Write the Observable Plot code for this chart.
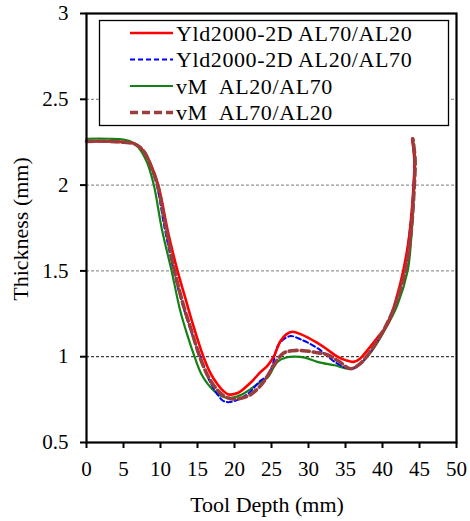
<!DOCTYPE html>
<html>
<head>
<meta charset="utf-8">
<script src="https://cdn.jsdelivr.net/npm/d3@7"></script>
<script src="https://cdn.jsdelivr.net/npm/@observablehq/plot@0.6"></script>
<style>
  body { margin: 0; background: #fff; }
  #chart { width: 470px; height: 521px; }
</style>
</head>
<body>
<div id="chart"></div>
<script>
// ---- data ----
const seriesNames = ["Yld2000-2D AL70/AL20", "Yld2000-2D AL20/AL70", "vM  AL20/AL70", "vM  AL70/AL20"];
const xTicks = [0, 5, 10, 15, 20, 25, 30, 35, 40, 45, 50];
const yTicks = [0.5, 1, 1.5, 2, 2.5, 3];
const gridY = [2.5, 2, 1.5];
const gridYDark = [1];

const redX = [0, 3, 5, 6.5, 7.7, 8.7, 9.7, 11, 12.3, 13.3, 14.3, 15.8, 16.8, 17.7, 18.5, 19.2, 20.5, 22.2, 23.5, 24.5, 25.3, 26.2, 27, 27.8, 29, 31.2, 32.6, 33.9, 35, 36.1, 37, 38, 39.3, 40.7, 41.8, 42.8, 43.6, 44.2, 44.3, 44.0];
const redY = [2.255, 2.255, 2.25, 2.24, 2.2, 2.12, 2.0, 1.73, 1.5, 1.35, 1.2, 1.0, 0.9, 0.84, 0.8, 0.78, 0.79, 0.85, 0.91, 0.95, 1.0, 1.09, 1.13, 1.145, 1.13, 1.08, 1.04, 1.0, 0.98, 0.97, 0.99, 1.04, 1.11, 1.19, 1.33, 1.5, 1.7, 2.0, 2.15, 2.27];

const blueX = [0, 3, 5, 6.5, 7.7, 8.7, 9.5, 10.6, 11.8, 13, 14.2, 15.4, 16.4, 17.4, 18.4, 19.2, 20.5, 22, 23.5, 24.5, 25.2, 25.8, 26.6, 27.6, 29, 31.2, 33.9, 35.9, 37.5, 39.3, 41.5, 42.9, 43.6, 44.2, 44.3, 44.0];
const blueY = [2.255, 2.255, 2.25, 2.24, 2.2, 2.11, 2.0, 1.74, 1.5, 1.3, 1.14, 1.0, 0.88, 0.8, 0.745, 0.735, 0.75, 0.79, 0.86, 0.89, 0.96, 1.06, 1.1, 1.12, 1.1, 1.05, 0.96, 0.93, 0.98, 1.09, 1.28, 1.5, 1.7, 2.0, 2.15, 2.27];

const greenX = [0, 3, 5, 6.2, 7.0, 8.2, 9.1, 10.2, 11.5, 12.6, 13.6, 14.6, 15.5, 16.4, 17.5, 18.5, 19.5, 21, 23.1, 24.5, 25.8, 27, 28, 29.5, 31.2, 33.5, 35.7, 37, 38.5, 40.1, 42, 43.4, 43.9, 44.3, 44.4, 44.1];
const greenY = [2.27, 2.27, 2.265, 2.25, 2.22, 2.13, 2.0, 1.74, 1.5, 1.28, 1.13, 1.0, 0.9, 0.84, 0.79, 0.765, 0.76, 0.78, 0.84, 0.88, 0.97, 0.995, 1.0, 0.995, 0.97, 0.95, 0.93, 0.96, 1.03, 1.14, 1.3, 1.5, 1.7, 2.0, 2.15, 2.27];

const brownX = [0, 3, 5, 6.5, 7.7, 8.7, 9.6, 10.7, 11.9, 13.1, 14.2, 15.3, 16.5, 17.6, 18.6, 19.5, 20.5, 22, 23.5, 24.5, 25.3, 26.6, 27.8, 29.3, 31, 32.6, 34.2, 35.7, 37, 38.5, 40.1, 41.7, 43.1, 43.8, 44.3, 44.4, 44.1];
const brownY = [2.255, 2.255, 2.25, 2.24, 2.2, 2.11, 2.0, 1.76, 1.5, 1.3, 1.15, 1.0, 0.88, 0.81, 0.77, 0.755, 0.755, 0.775, 0.83, 0.89, 0.95, 1.02, 1.035, 1.035, 1.025, 1.01, 0.97, 0.93, 0.96, 1.04, 1.15, 1.3, 1.5, 1.7, 2.0, 2.15, 2.27];

const styles = [
  {color: "#ff0000", width: 2.6, dash: null},
  {color: "#0000ff", width: 2, dash: "5,3"},
  {color: "#128212", width: 2.2, dash: null},
  {color: "#9b3d3d", width: 3.6, dash: "8,4"}
];

const toRows = (xs, ys) => xs.map((x, i) => ({x, y: ys[i]}));
const red = toRows(redX, redY);
const blue = toRows(blueX, blueY);
const green = toRows(greenX, greenY);
const brown = toRows(brownX, brownY);

const FONT = "'Liberation Serif', 'Times New Roman', serif";

const plot = Plot.plot({
  width: 470,
  height: 521,
  marginLeft: 86,
  marginRight: 14,
  marginTop: 13,
  marginBottom: 79,
  style: {fontFamily: FONT, fontSize: "21px", color: "#000", background: "#fff"},
  x: {domain: [0, 50]},
  y: {domain: [0.5, 3]},
  marks: [
    Plot.ruleY(gridY, {stroke: "#7a7a7a", strokeDasharray: "3,2", strokeWidth: 1}),
    Plot.ruleY(gridYDark, {stroke: "#111", strokeDasharray: "3,2", strokeWidth: 1}),
    Plot.line(green, {x: "x", y: "y", stroke: styles[2].color, strokeWidth: styles[2].width, curve: "catmull-rom"}),
    Plot.line(blue, {x: "x", y: "y", stroke: styles[1].color, strokeWidth: styles[1].width, strokeDasharray: styles[1].dash, curve: "catmull-rom"}),
    Plot.line(red, {x: "x", y: "y", stroke: styles[0].color, strokeWidth: styles[0].width, curve: "catmull-rom"}),
    Plot.line(brown, {x: "x", y: "y", stroke: styles[3].color, strokeWidth: styles[3].width, strokeDasharray: styles[3].dash, curve: "catmull-rom"}),
    Plot.frame({stroke: "#000", strokeWidth: 2.2}),
    Plot.axisX({ticks: xTicks, tickSize: 6, tickPadding: 13, strokeWidth: 2, label: null, fontSize: 21}),
    Plot.axisY({ticks: yTicks, tickSize: 6, tickPadding: 12, strokeWidth: 2, label: null, tickFormat: d => String(d), fontSize: 21})
  ]
});

document.getElementById("chart").appendChild(plot);

// ---- axis titles and legend ----
const svg = d3.select(plot);
svg.append("text")
  .attr("x", 267).attr("y", 512)
  .attr("text-anchor", "middle")
  .style("font-family", FONT).style("font-size", "22px").attr("fill", "#000")
  .text("Tool Depth (mm)");
svg.append("text")
  .attr("transform", "translate(28,229) rotate(-90)")
  .attr("text-anchor", "middle")
  .style("font-family", FONT).style("font-size", "22px").attr("fill", "#000")
  .text("Thickness (mm)");

const lg = svg.append("g").attr("text-anchor", "start");
lg.append("rect").attr("x", 99.5).attr("y", 20.5).attr("width", 349).attr("height", 105)
  .attr("fill", "#fff").attr("stroke", "#000").attr("stroke-width", 1.3);
seriesNames.forEach((name, i) => {
  const cy = 33 + i * 26.5;
  const s = styles[i];
  lg.append("line").attr("x1", 130).attr("x2", 173).attr("y1", cy).attr("y2", cy)
    .attr("stroke", s.color).attr("stroke-width", s.width)
    .attr("stroke-dasharray", s.dash);
  lg.append("text").attr("x", 176).attr("y", cy + 7.5)
    .attr("text-anchor", "start")
    .style("font-family", FONT).style("font-size", "22px").style("letter-spacing", "0.6px")
    .style("white-space", "pre").attr("xml:space", "preserve")
    .attr("fill", "#000").text(name);
});
</script>
</body>
</html>
